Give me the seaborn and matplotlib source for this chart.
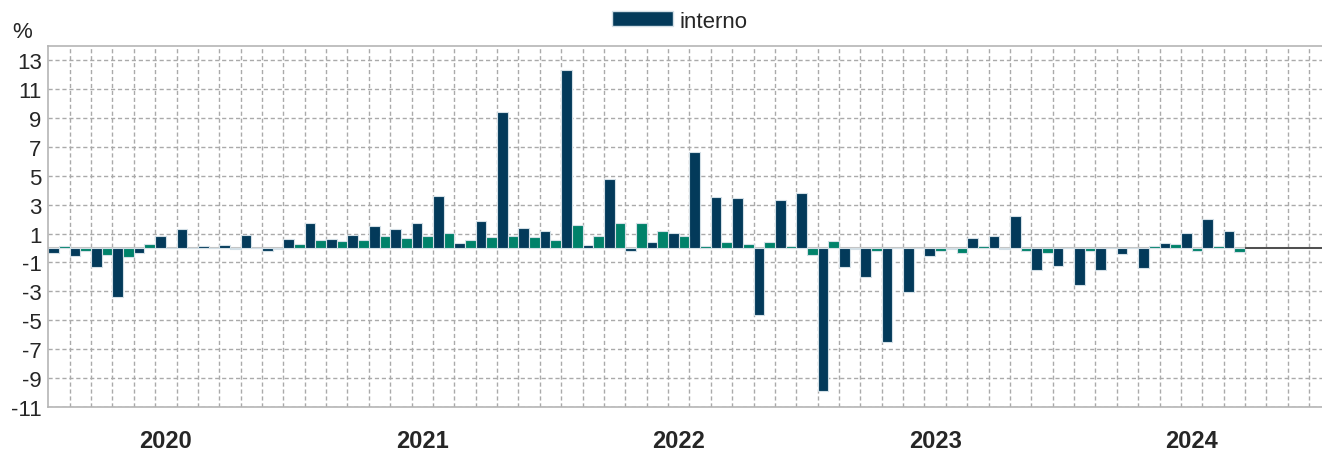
import numpy as np
import pandas as pd
import matplotlib.pyplot as plt
import seaborn as sns
from matplotlib.patches import Patch
from matplotlib.ticker import FixedLocator

# monthly values, Jan 2020 - Aug 2024 (%)
months = pd.date_range('2020-01-01', periods=56, freq='MS').strftime('%Y-%m').tolist()

interno = [-0.35, -0.53, -1.34, -3.42, -0.35, 0.81, 1.32, 0.12, 0.23, 0.92,
           -0.23, 0.62, 1.71, 0.62, 0.92, 1.52, 1.32, 1.71, 3.63, 0.32,
           1.89, 9.45, 1.41, 1.20, 12.33, 0.21, 4.75, -0.23, 0.42, 1.02,
           6.66, 3.50, 3.49, -4.64, 3.30, 3.81, -9.93, -1.34, -2.03, -6.53,
           -3.03, -0.53, -0.07, 0.69, 0.81, 2.19, -1.52, -1.27, -2.54, -1.52,
           -0.42, -1.41, 0.32, 1.04, 2.00, 1.20]

externo = [0.16, -0.18, -0.48, -0.60, 0.25, 0.0, 0.0, 0.0, -0.10, 0.0,
           -0.10, 0.25, 0.58, 0.48, 0.58, 0.85, 0.67, 0.85, 1.06, 0.58,
           0.76, 0.85, 0.76, 0.58, 1.57, 0.85, 1.76, 1.76, 1.15, 0.85,
           0.16, 0.39, 0.28, 0.39, 0.16, -0.46, 0.46, -0.10, -0.18, 0.0,
           0.0, -0.18, -0.35, 0.16, -0.10, -0.18, -0.35, 0.0, -0.18, 0.0,
           0.0, 0.16, 0.25, -0.18, 0.16, -0.28]

years = ['2020', '2021', '2022', '2023', '2024']
year_pos = [5, 17, 29, 41, 53]

navy = '#033a5a'
green = '#00826a'
grid_col = '#aaaaaa'

df = pd.DataFrame({
    'mes': months * 2,
    'valor': interno + externo,
    'serie': ['interno'] * len(months) + ['externo'] * len(months),
})

sns.set_style('white')
plt.rcParams['font.family'] = ['Liberation Sans', 'DejaVu Sans']
plt.rcParams['axes.unicode_minus'] = False

W, H = 1322, 452
fig = plt.figure(figsize=(W / 100, H / 100), dpi=100)
left, top, bottom = 48.3, 47, 407.7
ax = fig.add_axes([left / W, 1 - bottom / H, 1 - left / W, (bottom - top) / H])

sns.barplot(data=df, x='mes', y='valor', hue='serie', hue_order=['interno', 'externo'],
            palette=[navy, green], saturation=1, width=1.0, errorbar=None,
            edgecolor='#d3dfe6', linewidth=0.8, legend=False, ax=ax)

ax.set_xlim(-0.5, -0.5 + (W - left) / 21.37)
ax.set_ylim(-11, 14)
ax.set_yticks(range(-11, 14, 2))
ax.set_xticks(year_pos)
ax.set_xticklabels(years, fontsize=17, fontweight='bold')
ax.xaxis.set_minor_locator(FixedLocator(np.arange(0.5, 60, 1)))
ax.set_xlabel('')
ax.set_ylabel('')

ax.set_axisbelow(True)
ax.grid(axis='y', which='major', color=grid_col, linestyle=(0, (3, 2)), linewidth=1)
ax.grid(axis='x', which='minor', color=grid_col, linestyle=(0, (3, 2)), linewidth=1)
ax.grid(False, axis='x', which='major')
ax.tick_params(axis='both', which='both', length=0)
ax.tick_params(axis='y', labelsize=16, pad=4.8)
ax.tick_params(axis='x', pad=16)

for s in ['left', 'top', 'bottom']:
    ax.spines[s].set_color('#b5b5b5')
    ax.spines[s].set_linewidth(1.2)
ax.spines['right'].set_visible(False)

ax.axhline(0, color='#c4c4c4', linewidth=1.5, zorder=0.8)
ax.hlines(0, len(months) - 0.5, 60, color='#3a3a3a', linewidth=1.2, zorder=3)

fig.legend(handles=[Patch(facecolor=navy, edgecolor='#d3dfe6', label='interno')],
           loc='center', bbox_to_anchor=(680 / W, 1 - 22 / H), frameon=False,
           fontsize=16, handlelength=2.75, handleheight=0.65, handletextpad=0.3)
fig.text(12 / W, 1 - 38 / H, '%', fontsize=16, ha='left', va='baseline')

fig.savefig('out.png', dpi=100)
